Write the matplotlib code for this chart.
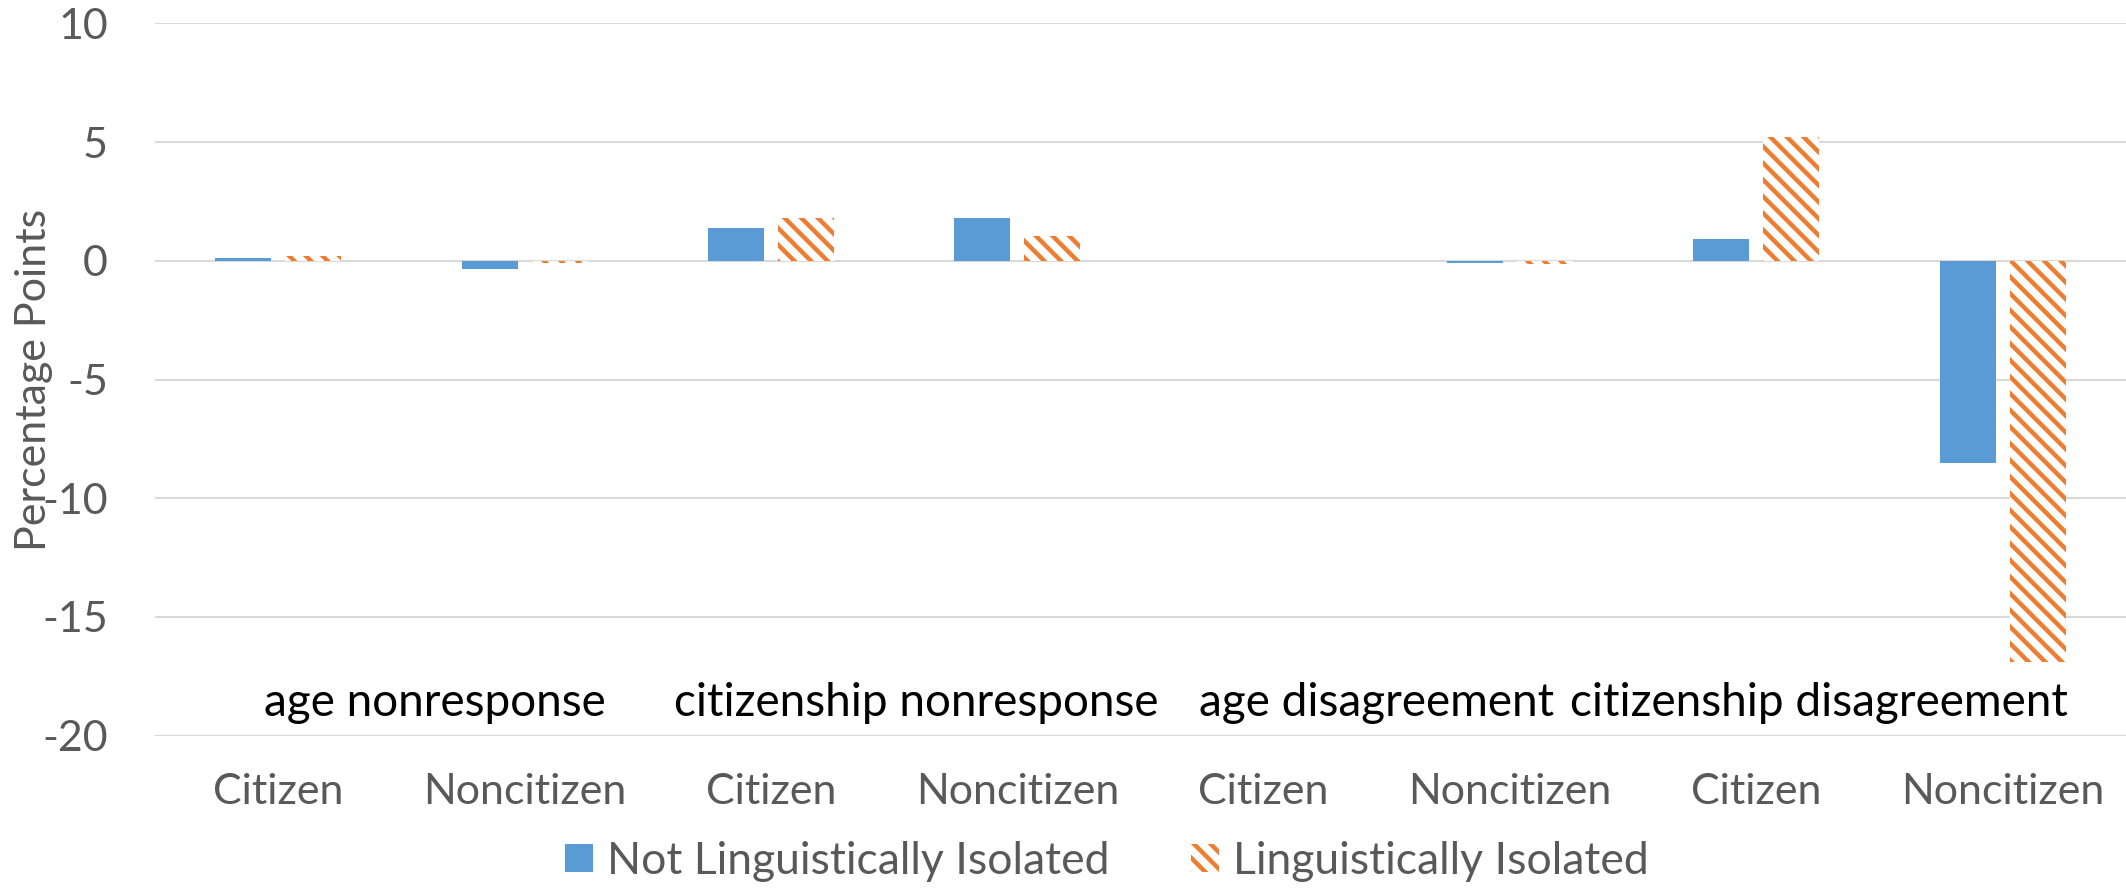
import matplotlib
matplotlib.use("Agg")
import matplotlib.pyplot as plt
import numpy as np

# ---- data ----
categories = ["Citizen", "Noncitizen", "Citizen", "Noncitizen",
              "Citizen", "Noncitizen", "Citizen", "Noncitizen"]
not_isolated = [0.1, -0.35, 1.4, 1.8, 0.0, -0.1, 0.93, -8.5]
isolated = [0.2, -0.1, 1.8, 1.05, 0.0, -0.13, 5.2, -16.9]
series_names = ["Not Linguistically Isolated", "Linguistically Isolated"]
group_labels = ["age nonresponse", "citizenship nonresponse",
                "age disagreement", "citizenship disagreement"]
yticks = [10, 5, 0, -5, -10, -15, -20]

# ---- layout / style ----
group_label_x = [0.638, 2.589, 4.459, 6.253]
group_label_y = -19.17
BLUE = "#5B9BD5"
ORANGE = "#ED7D31"
GRAY = "#595959"
GRID = "#D9D9D9"
FONT = "Lato"
FS = 31

plt.rcParams["font.family"] = [FONT, "DejaVu Sans"]
plt.rcParams["axes.unicode_minus"] = False
plt.rcParams["hatch.linewidth"] = 3.2

W, H, DPI = 2126, 889, 100
fig = plt.figure(figsize=(W / DPI, H / DPI), dpi=DPI)
left = 155 / W
bottom = 1 - 735.7 / H
top = 1 - 23.3 / H
ax = fig.add_axes([left, bottom, 1 - left, top - bottom])

x = np.arange(len(categories))
bw = 0.227
off = 0.142
b1 = ax.bar(x - off, not_isolated, width=bw, color=BLUE, linewidth=0,
            label=series_names[0], zorder=3)
b2 = ax.bar(x + off, isolated, width=bw, facecolor="white", edgecolor=ORANGE,
            hatch="\\\\", linewidth=0, label=series_names[1], zorder=3)

ax.set_xlim(-0.5, len(categories) - 0.5)
ax.set_ylim(-20, 10)
ax.set_yticks(yticks)
ax.set_yticklabels([str(t) for t in yticks])
ax.yaxis.grid(True, color=GRID, linewidth=1.5, zorder=0)
ax.set_axisbelow(True)
for s in ax.spines.values():
    s.set_visible(False)
ax.tick_params(axis="both", length=0, colors=GRAY, labelsize=FS)
ax.tick_params(axis="y", pad=34)
ax.set_xticks(x)
ax.set_xticklabels(categories)
ax.tick_params(axis="x", pad=27)

for lbl, gx in zip(group_labels, group_label_x):
    ax.text(gx, group_label_y, lbl, ha="center", va="baseline",
            fontsize=33, color="black")

fig.text(34 / W, 1 - 379.5 / H, "Percentage Points", rotation=90,
         ha="center", va="center", fontsize=FS, color=GRAY)

leg = fig.legend(handles=[b1, b2], labels=series_names, loc="center",
                 bbox_to_anchor=(1107 / W, 1 - 861 / H), ncol=2,
                 frameon=False, fontsize=32, handlelength=0.61,
                 handleheight=0.61, handletextpad=0.32, columnspacing=1.85,
                 borderpad=0)
for t in leg.get_texts():
    t.set_color(GRAY)

fig.savefig("out.png", dpi=DPI, facecolor="white")
